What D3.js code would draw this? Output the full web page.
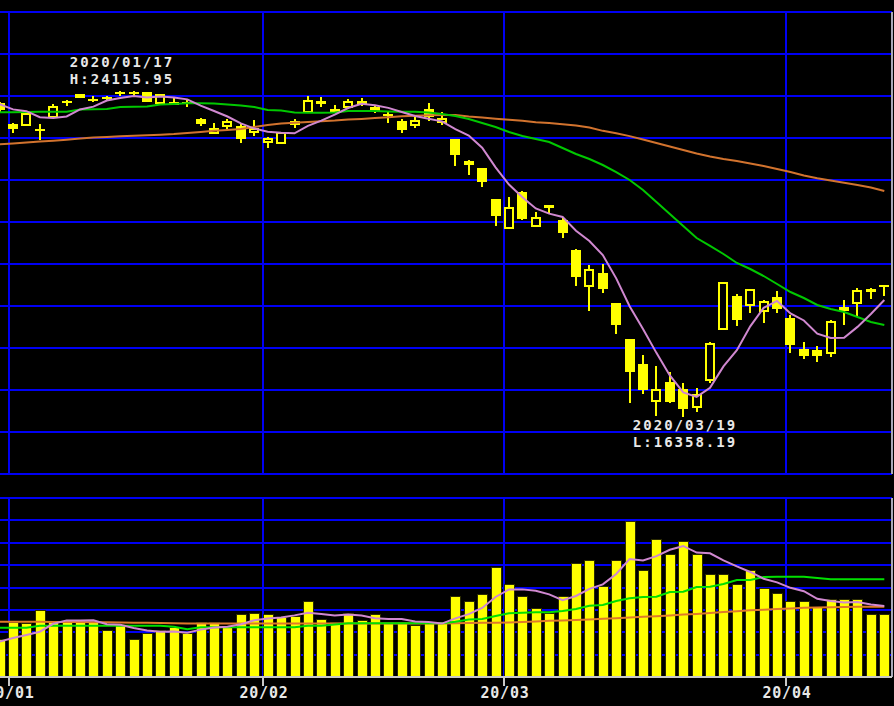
<!DOCTYPE html>
<html lang='en'>
	<head>
		<title>Nikkei 225 daily chart</title>
		<script type='text/javascript' src='https://cdn.jsdelivr.net/npm/d3@7/dist/d3.min.js'></script>
		<style>
			body { margin: 0; background: #000; }
			svg { display: block; }
		</style>
	</head>
	<body>
		<script type='text/javascript'>
			// daily bars, 2019/12/30 .. 2020/04/10
			var dates = ['12/30','01/06','01/07','01/08','01/09','01/10','01/14','01/15','01/16','01/17','01/20','01/21','01/22','01/23','01/24','01/27','01/28','01/29','01/30','01/31',
				'02/03','02/04','02/05','02/06','02/07','02/10','02/12','02/13','02/14','02/17','02/18','02/19','02/20','02/21','02/25','02/26','02/27','02/28',
				'03/02','03/03','03/04','03/05','03/06','03/09','03/10','03/11','03/12','03/13','03/16','03/17','03/18','03/19','03/23','03/24','03/25','03/26','03/27','03/30','03/31',
				'04/01','04/02','04/03','04/06','04/07','04/08','04/09','04/10']
			var opens = [23833,23333,23310,23217,23500,23880,23969,23920,23975,24100,24100,24095,23840,23865,23860,23445,23126,23292,23286,23141,
				22898,22874,23405,23626,23888,23683,23745,23881,23690,23560,23405,23310,23683,23370,22976,22420,22285,21550,
				20849,21720,20897,21399,21050,20343,19476,19790,19064,18214,17619,16738,17190,17024,16595,17238,18452,19238,19024,18881,19214,
				18714,17976,17950,17881,18897,19071,19400,19505]
			var highs = [23850,23365,23577,23333,23800,23903,24059,24000,23990,24115.95,24109,24100,24044,23950,23930,23475,23349,23452,23342,23430,
				23031,23130,23445,24007,23969,23786,23929,23950,23786,23626,23450,23493,23826,23619,22976,22476,22292,21549,
				21602,21750,21245,21399,21090,20347,19979,20000,19064,18214,17833,17571,17430,17167,17048,18140,19564,19280,19389,19141,19357,
				18786,18142,18059,18672,19143,19440,19440,19510]
			var lows = [23620,23119,23299,22952,23480,23761,23951,23850,23877,24000,23979,23861,23830,23777,23745,23295,23115,23221,22880,23046,
				22769,22850,23231,23600,23731,23595,23690,23758,23590,23350,23112,23231,23412,23310,22333,22119,21833,20916,
				20834,21050,20880,21225,20613,19472,18891,19318,18339,16690,16905,16380,16698,16358.19,16476,17167,18446,18524,18833,18595,18833,
				17881,17738,17667,17786,18548,18738,19160,19238]
			var closes = [23656,23204,23575,23204,23739,23850,24025,23916,23933,24041,24083,23864,24031,23795,23850,23343,23215,23379,22977,23205,
				22969,23112,23310,23888,23802,23626,23864,23802,23715,23540,23190,23405,23507,23450,22605,22426,21948,21142,
				21344,21082,21100,21329,20749,19698,19867,19416,18559,17431,17002,17011,16726,16552,16887,18092,19546,18664,19389,19084,18917,
				18065,17818,17820,18619,18950,19353,19345,19498]

			// price moving averages (5, 25, 75 days)
			var ma5 = [23806,23681,23639,23495,23476,23514,23679,23747,23893,23953,24000,23967,23990,23963,23920,23772,23642,23512,23348,23224,
				23149,23123,23111,23290,23415,23558,23713,23815,23778,23717,23618,23526,23456,23396,23213,23059,22769,22301,
				21893,21588,21323,21199,21121,20792,20549,20212,19658,18994,18455,17884,17346,16944,16836,17054,17561,17948,18516,18955,19120,
				18824,18655,18341,18239,18246,18503,18809,19144]
			var ma25 = [23612,23612,23619,23626,23626,23626,23679,23683,23690,23738,23745,23750,23798,23810,23826,23826,23821,23798,23774,23738,
				23667,23655,23607,23602,23602,23607,23643,23643,23643,23631,23626,23626,23607,23571,23524,23452,23357,23262,
				23143,23048,22976,22905,22762,22619,22500,22357,22190,22000,21762,21476,21191,20905,20619,20429,20238,20024,19881,19714,19524,
				19333,19190,19024,18929,18857,18738,18619,18548]
			var ma75 = [22850,22870,22890,22915,22935,22960,22990,23010,23025,23040,23055,23065,23080,23095,23120,23145,23170,23190,23215,23260,
				23310,23345,23365,23380,23400,23415,23440,23455,23475,23495,23515,23530,23540,23548,23545,23510,23490,23460,
				23435,23410,23375,23355,23330,23300,23250,23170,23115,23045,22964,22881,22798,22714,22631,22560,22500,22452,22393,22333,22262,
				22190,22107,22040,21988,21936,21881,21821,21738]

			// volume and its moving averages
			var volumes = [827,1229,1185,1497,1207,1207,1229,1207,1050,1140,849,961,1050,1095,983,1207,1207,1118,1386,1430,
				1386,1319,1363,1676,1296,1207,1430,1252,1386,1207,1207,1140,1207,1207,1788,1676,1833,2436,
				2056,1788,1520,1430,1788,2526,2593,2012,2593,3464,2369,3062,2727,3017,2727,2280,2280,2056,2391,1967,1877,
				1676,1676,1542,1721,1721,1721,1386,1386]
			var volMa5 = [789,872,939,1012,1189,1265,1265,1269,1180,1167,1095,1041,1010,1019,988,1059,1108,1122,1180,1270,
				1305,1328,1377,1435,1408,1372,1394,1372,1314,1296,1296,1238,1229,1194,1310,1404,1542,1788,
				1958,1958,1927,1846,1716,1810,1971,2070,2302,2638,2606,2700,2843,2928,2780,2763,2606,2472,2347,2195,2114,
				1993,1917,1748,1698,1667,1676,1618,1587]
			var volMa25 = [1102,1102,1102,1147,1147,1147,1147,1147,1147,1147,1147,1147,1147,1124,1066,1111,1111,1111,1111,1111,
				1111,1111,1111,1147,1147,1173,1200,1200,1200,1200,1200,1200,1200,1200,1236,1285,1296,1363,
				1424,1435,1446,1446,1475,1520,1594,1609,1700,1760,1790,1795,1900,1906,2012,2018,2079,2168,2168,2235,2242,
				2242,2242,2213,2184,2184,2184,2184,2184]
			var volMa75 = [1236,1236,1234,1232,1230,1229,1228,1226,1224,1220,1215,1210,1205,1200,1197,1196,1196,1196,1196,1196,
				1196,1196,1196,1196,1196,1196,1196,1196,1196,1196,1196,1196,1196,1196,1200,1205,1210,1214,
				1220,1230,1240,1255,1265,1275,1285,1300,1315,1330,1345,1360,1375,1395,1410,1430,1450,1470,1490,1505,1520,
				1530,1545,1555,1560,1565,1570,1571,1571]

			var priceLevels = [16000,17000,18000,19000,20000,21000,22000,23000,24000,25000,26000]
			var volLevels = [500,1000,1500,2000,2500,3000,3500,4000]
			var monthLabels = ['20/01','20/02','20/03','20/04']
			var monthFirstIdx = [1,20,38,59]
			var highNote = ['2020/01/17','H:24115.95'], highNoteIdx = 9
			var lowNote = ['2020/03/19','L:16358.19'], lowNoteIdx = 51

			{
				var width = 894, height = 706;
				var right = 892;
				var svg_elem = d3.select('body').append('svg').attr('width', width).attr('height', height)
				svg_elem.append('rect').attr('width', width).attr('height', height).attr('fill', '#000')

				var x_scale = d3.scaleLinear().domain([0, dates.length-1]).range([-0.4, 884.3])
				var price_scale = d3.scaleLinear().domain([15000, 26000]).range([474, 12])
				var vol_scale = d3.scaleLinear().domain([0, 4000]).range([677, 498])
				var cx = i => Math.round(x_scale(i))
				var month_x = monthFirstIdx.map(i => Math.round(x_scale(i) - 4.5))

				var blue = '#0000f4', grey = '#c8c8c8', yellow = '#ffff00'
				var pink = '#d088d0', green = '#00c800', orange = '#d2732e'
				var font = "'DejaVu Sans Mono', monospace"

				// ---- price pane grid
				var grid = svg_elem.append('g').attr('shape-rendering', 'crispEdges')
				grid.selectAll('line.ph').data([15000].concat(priceLevels)).enter().append('line')
					.attr('x1', 0).attr('x2', right)
					.attr('y1', d => price_scale(d)).attr('y2', d => price_scale(d))
					.attr('stroke', blue).attr('stroke-width', 2)
				grid.selectAll('line.pv').data(month_x).enter().append('line')
					.attr('x1', d => d).attr('x2', d => d)
					.attr('y1', price_scale(26000)).attr('y2', price_scale(15000))
					.attr('stroke', blue).attr('stroke-width', 2)

				// ---- volume pane grid
				grid.selectAll('line.vh').data(volLevels).enter().append('line')
					.attr('x1', 0).attr('x2', right)
					.attr('y1', d => Math.round(vol_scale(d))).attr('y2', d => Math.round(vol_scale(d)))
					.attr('stroke', blue).attr('stroke-width', 2)
				grid.selectAll('line.vv').data(month_x).enter().append('line')
					.attr('x1', d => d).attr('x2', d => d)
					.attr('y1', vol_scale(4000)).attr('y2', vol_scale(0))
					.attr('stroke', blue).attr('stroke-width', 2)

				// right edge
				grid.append('line').attr('x1', right).attr('x2', right).attr('y1', 12).attr('y2', 474)
					.attr('stroke', '#a8a8b8').attr('stroke-width', 2)
				grid.append('line').attr('x1', right).attr('x2', right).attr('y1', 498).attr('y2', 677)
					.attr('stroke', '#a8a8b8').attr('stroke-width', 2)

				// ---- candles
				var candles = svg_elem.append('g').attr('shape-rendering', 'crispEdges')
				var idx = d3.range(dates.length)
				candles.selectAll('line.wick').data(idx).enter().append('line')
					.attr('x1', cx).attr('x2', cx)
					.attr('y1', i => price_scale(highs[i])).attr('y2', i => price_scale(lows[i]))
					.attr('stroke', yellow).attr('stroke-width', 2)
				candles.selectAll('rect.body').data(idx).enter().append('rect')
					.attr('x', i => closes[i] >= opens[i] ? cx(i) - 4 : cx(i) - 5)
					.attr('width', i => closes[i] >= opens[i] ? 8 : 10)
					.attr('y', i => price_scale(Math.max(opens[i], closes[i])))
					.attr('height', i => Math.max(2, price_scale(Math.min(opens[i], closes[i])) - price_scale(Math.max(opens[i], closes[i]))))
					.attr('fill', i => closes[i] >= opens[i] ? '#000' : yellow)
					.attr('stroke', i => closes[i] >= opens[i] ? yellow : 'none')
					.attr('stroke-width', 2)

				// ---- price moving averages
				var price_line = d3.line().x((d, i) => x_scale(i)).y(d => price_scale(d))
				;[[ma75, orange], [ma25, green], [ma5, pink]].forEach(function(s) {
					svg_elem.append('path').datum(s[0]).attr('d', price_line)
						.attr('fill', 'none').attr('stroke', s[1]).attr('stroke-width', 2)
				})

				// ---- high / low notes
				var notes = svg_elem.append('g')
					.attr('font-family', font).attr('font-weight', 'bold').attr('font-size', 14)
					.attr('letter-spacing', 2).attr('fill', '#e8e8e8').attr('text-anchor', 'middle')
				notes.selectAll('text.hi').data(highNote).enter().append('text')
					.attr('x', cx(highNoteIdx) + 2)
					.attr('y', (d, k) => price_scale(highs[highNoteIdx]) - 24 + k*17)
					.text(d => d)
				notes.selectAll('text.lo').data(lowNote).enter().append('text')
					.attr('x', cx(lowNoteIdx) + 2)
					.attr('y', (d, k) => price_scale(lows[lowNoteIdx]) + 13 + k*17)
					.text(d => d)

				// ---- volume bars
				svg_elem.append('g').attr('shape-rendering', 'crispEdges')
					.selectAll('rect').data(volumes).enter().append('rect')
					.attr('x', (d, i) => cx(i) - 5).attr('width', 10)
					.attr('y', d => vol_scale(d)).attr('height', d => vol_scale(0) - vol_scale(d))
					.attr('fill', yellow).attr('stroke', '#2a2a00').attr('stroke-width', 1)

				var vol_line = d3.line().x((d, i) => x_scale(i)).y(d => vol_scale(d))
				;[[volMa75, '#e07a2a'], [volMa25, '#00e000'], [volMa5, pink]].forEach(function(s) {
					svg_elem.append('path').datum(s[0]).attr('d', vol_line)
						.attr('fill', 'none').attr('stroke', s[1]).attr('stroke-width', 2)
				})

				// ---- date axis
				var axis = svg_elem.append('g').attr('shape-rendering', 'crispEdges')
				axis.append('line').attr('x1', 0).attr('x2', right).attr('y1', 677).attr('y2', 677)
					.attr('stroke', grey).attr('stroke-width', 1.5)
				axis.selectAll('line.tick').data(month_x).enter().append('line')
					.attr('x1', d => d).attr('x2', d => d).attr('y1', 677).attr('y2', 686)
					.attr('stroke', grey).attr('stroke-width', 1.5)
				svg_elem.append('g').selectAll('text').data(monthLabels).enter().append('text')
					.attr('x', (d, k) => month_x[k] + 1).attr('y', 698)
					.attr('text-anchor', 'middle')
					.attr('font-family', font).attr('font-weight', 'bold').attr('font-size', 15)
					.attr('letter-spacing', 0.8).attr('fill', '#e8e8e8')
					.text(d => d)
			}
		</script>
	</body>
</html>
